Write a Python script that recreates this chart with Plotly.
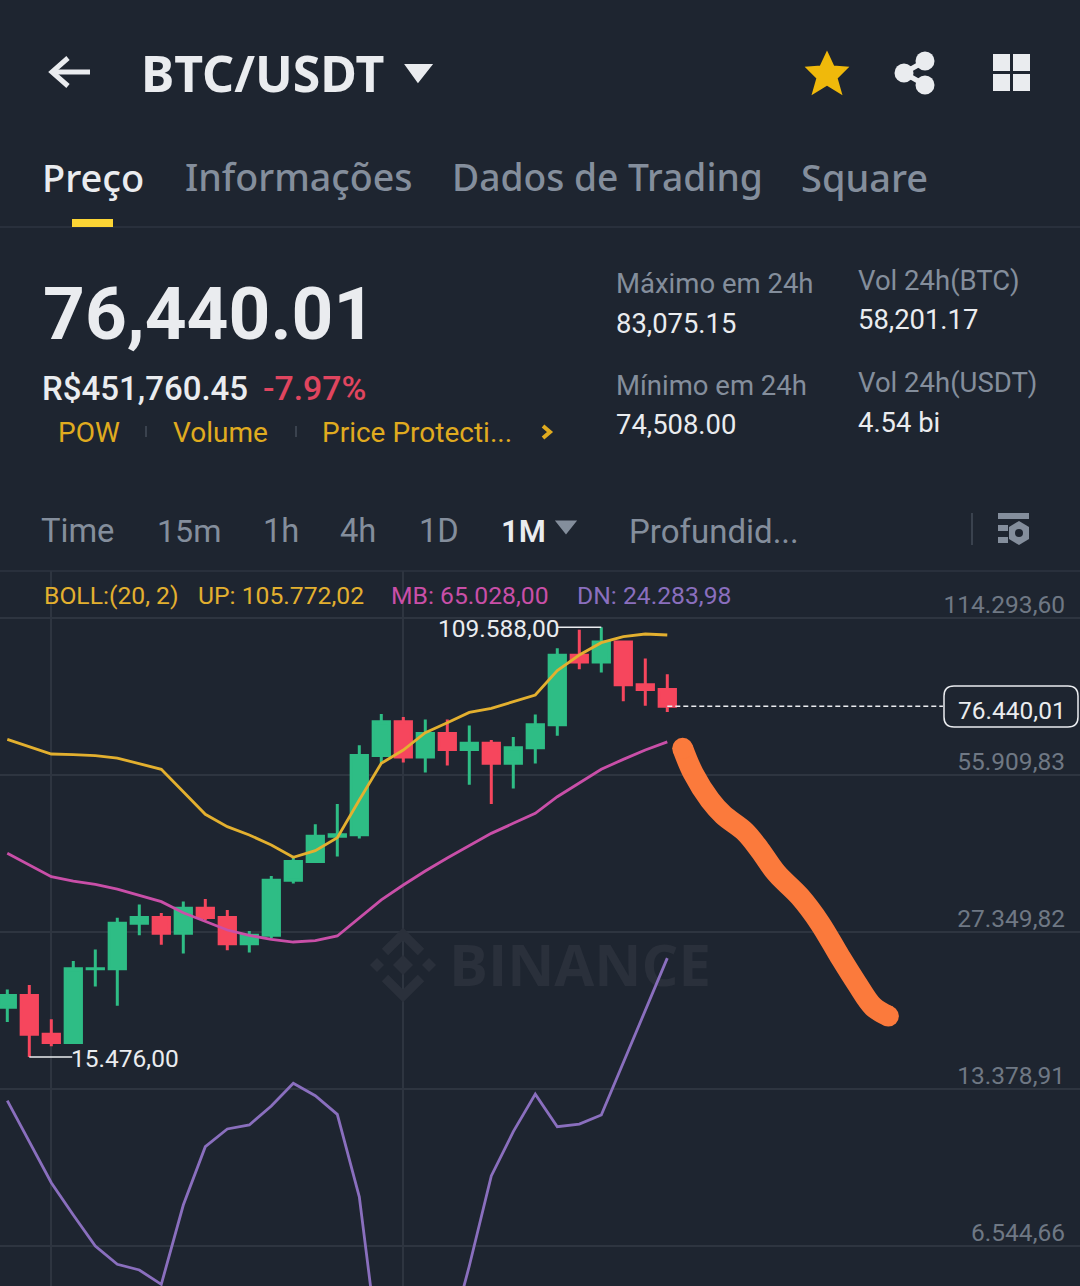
import plotly.graph_objects as go

BG = '#1e2530'
GRID = '#2e3540'
WHITE = '#eaecef'
GRAY = '#848e9c'
YELLOW = '#f0b90b'
GREEN = '#2ebd85'
RED = '#f6465d'
ORANGE = '#fb7a3c'

# Monthly candles, Oct 2022 to Apr 2025
months = list(range(31))
opens = [19422, 20490, 17163, 16542, 23125, 23142, 28465, 29233, 27210, 30472, 29232,
         25940, 26962, 34639, 37723, 42283, 42580, 61130, 71280, 60672, 67540, 62772,
         64628, 58974, 63327, 70292, 96407, 93576, 102429, 84350, 82550]
highs = [21060, 21480, 18387, 23960, 25250, 29184, 31000, 29820, 31431, 31804, 30244,
         27483, 35280, 38450, 44700, 48969, 64000, 73777, 72797, 71979, 71980, 70079,
         65593, 66498, 73620, 99588, 108353, 109588, 102500, 95000, 88500]
lows = [18150, 15476, 16256, 16499, 21351, 19549, 26942, 25811, 24800, 28861, 25166,
        24901, 26538, 34097, 37629, 38555, 41884, 59005, 59191, 56552, 58402, 53485,
        49000, 52550, 58946, 66835, 90500, 89142, 78258, 76606, 74508]
closes = [20490, 17163, 16542, 23125, 23142, 28465, 29233, 27210, 30472, 29232, 25940,
          26962, 34639, 37723, 42283, 42580, 61130, 71280, 60672, 67540, 62772, 64628,
          58974, 63327, 70292, 96407, 93576, 102429, 84350, 82550, 76440.01]

# Bollinger bands
boll_up = [65770, 63600, 61520, 61330, 61060, 60400, 58960, 57380, 51820, 46740, 44190,
           42540, 40650, 38430, 39610, 42020, 49900, 58960, 62650, 67800, 70960, 74370,
           75740, 77960, 80490, 89920, 96570, 102150, 104980, 106270, 105772.02]
boll_mb = [39140, 37100, 35190, 34500, 33980, 33260, 32370, 31400, 29860, 28670, 27600,
           26930, 26450, 26130, 26290, 26860, 29100, 31650, 33880, 36110, 38310, 40470,
           42860, 44860, 46960, 50650, 53990, 57380, 60040, 62650, 65028]
boll_dn = [12686, 10524, 8731, 7537, 6544, 6021, 5867, 5497, 7888, 10287, 11153,
           11356, 12382, 13727, 12974, 11921, 8190, 3687, 3246, 3246, 4095, 5975,
           9003, 11017, 13070, 11267, 11407, 11887, 15100, 19030, 24283.98]

# Hand drawn stroke over the screenshot
stroke_x = [30.70, 31.18, 31.94, 32.55, 33.53, 34.21, 34.97, 36.03, 36.94, 37.85, 38.61, 39.36, 40.05]
stroke_price = [63130, 56350, 49890, 46600, 43180, 39730, 35730, 32120, 28460, 24440, 21660, 19460, 18650]

tick_vals = [114293.60, 55909.83, 27349.82, 13378.91, 6544.66]
tick_text = ['114.293,60', '55.909,83', '27.349,82', '13.378,91', '6.544,66']
last_price = 76440.01
high_price = 109588
low_price = 15476


def px(x):
    return x / 1080


def py(y):
    return 1 - y / 1286


fig = go.Figure()

# Watermark goes first so everything sits on top of it
fig.add_trace(go.Scatter(
    x=[26.03], y=[22900], mode='text', text=['<b>BINANCE</b>'],
    textfont=dict(family='Open Sans', size=58, color='#2a303b'),
    hoverinfo='skip', showlegend=False
))

fig.add_trace(go.Candlestick(
    x=months, open=opens, high=highs, low=lows, close=closes,
    increasing=dict(line=dict(color=GREEN, width=3), fillcolor=GREEN),
    decreasing=dict(line=dict(color=RED, width=3), fillcolor=RED),
    hoverinfo='skip', showlegend=False
))

for band, color in [(boll_up, '#e3b02f'), (boll_mb, '#c94fa8'), (boll_dn, '#8a6fbe')]:
    fig.add_trace(go.Scatter(
        x=months, y=band, mode='lines', line=dict(color=color, width=2.8),
        hoverinfo='skip', showlegend=False
    ))

# Round ends only, the spline does the rest
stroke_sizes = [21] + [0] * (len(stroke_x) - 2) + [21]
fig.add_trace(go.Scatter(
    x=stroke_x, y=stroke_price, mode='lines+markers',
    line=dict(color=ORANGE, width=21, shape='spline'),
    marker=dict(color=ORANGE, size=stroke_sizes, opacity=1, line=dict(width=0)),
    hoverinfo='skip', showlegend=False
))

shapes = []


def hline(y, x0=0, x1=1080, color=GRID, width=1.5):
    shapes.append(dict(type='line', xref='paper', yref='paper', x0=px(x0), x1=px(x1), y0=py(y), y1=py(y),
                       line=dict(color=color, width=width)))


def vline(x, y0, y1, color=GRID, width=2):
    shapes.append(dict(type='line', xref='paper', yref='paper', x0=px(x), x1=px(x), y0=py(y0), y1=py(y1),
                       line=dict(color=color, width=width)))


def box(x0, y0, x1, y1, color):
    shapes.append(dict(type='rect', xref='paper', yref='paper', x0=px(x0), x1=px(x1), y0=py(y0), y1=py(y1),
                       fillcolor=color, line=dict(width=0)))


def poly(points, fill=None, line_color=None, width=0, close=True):
    path = 'M ' + ' L '.join(f'{px(a):.5f} {py(b):.5f}' for a, b in points) + (' Z' if close else '')
    shapes.append(dict(type='path', xref='paper', yref='paper', path=path, fillcolor=fill,
                       line=dict(color=line_color, width=width)))


def dot(x, y, r, color):
    shapes.append(dict(type='circle', xref='paper', yref='paper', x0=px(x - r), x1=px(x + r),
                       y0=py(y - r), y1=py(y + r), fillcolor=color, line=dict(width=0)))


# Page furniture
hline(227)
hline(571)
box(72, 219, 113, 227, '#fcd535')
vline(146, 426, 437, '#3a424e', 2)
vline(296, 426, 437, '#3a424e', 2)
vline(972, 513, 545, '#3a424e', 2)

# Back arrow
poly([(52, 72), (90, 72)], line_color=WHITE, width=5, close=False)
poly([(68, 58), (52, 72), (68, 86)], line_color=WHITE, width=5, close=False)

# Pair dropdown and interval dropdown
poly([(408, 66), (429, 66), (418, 80)], fill=WHITE, line_color=WHITE, width=4)
poly([(558, 522), (574, 522), (566, 532)], fill=GRAY, line_color=GRAY, width=3)

# Star
poly([(827, 54), (833, 67), (846, 68), (836, 78), (840, 92), (827, 84), (814, 92), (818, 78),
      (808, 68), (821, 67)], fill=YELLOW, line_color=YELLOW, width=3)

# Share
poly([(925, 61), (904, 73), (925, 85)], line_color=WHITE, width=5, close=False)
dot(925, 61, 9.5, WHITE)
dot(904, 73, 9.5, WHITE)
dot(925, 85, 9.5, WHITE)

# Grid
box(993, 54, 1010, 71, WHITE)
box(1013, 54, 1030, 71, WHITE)
box(1013, 74, 1030, 91, WHITE)
box(993, 74, 1010, 91, WHITE)

# Chevron
poly([(543, 426), (550, 432), (543, 438)], line_color='#e0ab1f', width=4, close=False)

# Indicator settings icon
box(998, 513, 1029, 519, GRAY)
box(998, 525, 1008, 531, GRAY)
box(998, 537, 1008, 543, GRAY)
poly([(1019, 521), (1029, 527), (1029, 539), (1019, 545), (1009, 539), (1009, 527)], fill=GRAY)
dot(1019, 533, 4, BG)

# Binance logo in the watermark
for cx, cy, r in [(403, 965, 10), (377, 965, 7), (429, 965, 7)]:
    poly([(cx, cy - r), (cx + r, cy), (cx, cy + r), (cx - r, cy)], fill='#2a303b')
poly([(385, 952), (403, 934), (421, 952)], line_color='#2a303b', width=9, close=False)
poly([(385, 978), (403, 996), (421, 978)], line_color='#2a303b', width=9, close=False)

# Last price line and label
shapes.append(dict(type='line', xref='x', yref='y', x0=30, x1=42.53, y0=last_price, y1=last_price,
                   line=dict(color=WHITE, width=1.5, dash='5px,3px')))
shapes.append(dict(type='path', xref='paper', yref='paper',
                   path=f'M {px(954)} {py(686)} L {px(1068)} {py(686)} Q {px(1078)} {py(686)} {px(1078)} {py(696)} '
                        f'L {px(1078)} {py(717)} Q {px(1078)} {py(727)} {px(1068)} {py(727)} L {px(954)} {py(727)} '
                        f'Q {px(944)} {py(727)} {px(944)} {py(717)} L {px(944)} {py(696)} Q {px(944)} {py(686)} {px(954)} {py(686)} Z',
                   fillcolor=BG, line=dict(color=WHITE, width=1.5)))

# High and low leaders
shapes.append(dict(type='line', xref='x', yref='y', x0=25, x1=27, y0=high_price, y1=high_price,
                   line=dict(color=WHITE, width=1.5)))
shapes.append(dict(type='line', xref='x', yref='y', x0=1, x1=2.95, y0=low_price, y1=low_price,
                   line=dict(color=WHITE, width=1.5)))

annotations = []


def label(text, x, y, size, color=WHITE, family='Roboto', weight=400):
    annotations.append(dict(text=text, xref='paper', yref='paper', x=px(x), y=py(y),
                            xanchor='left', yanchor='middle', showarrow=False,
                            font=dict(family=family, size=size, color=color, weight=weight)))


label('BTC/USDT', 139, 73, 50, WHITE, 'Noto Sans', 700)

label('Preço', 40, 176.5, 38, WHITE, 'Noto Sans', 500)
label('Informações', 183, 176.5, 37.6, GRAY, 'Noto Sans', 500)
label('Dados de Trading', 450, 176.5, 37.2, GRAY, 'Noto Sans', 500)
label('Square', 799, 176.5, 38, GRAY, 'Noto Sans', 500)

label('76,440.01', 41, 314, 73, WHITE, 'Roboto', 700)
label('R$451,760.45', 40, 389, 33, WHITE, 'Roboto', 500)
label('-7.97%', 261, 389, 33.8, '#e0455f', 'Roboto', 500)
label('POW', 56, 432.5, 28, '#e0ab1f')
label('Volume', 171, 432.5, 28, '#e0ab1f')
label('Price Protecti...', 320, 432.5, 28, '#e0ab1f')

label('Máximo em 24h', 614, 283.5, 27.5, GRAY)
label('83,075.15', 614, 323.5, 27.4, WHITE)
label('Mínimo em 24h', 614, 385.5, 27.5, GRAY)
label('74,508.00', 614, 425.5, 27.4, WHITE)
label('Vol 24h(BTC)', 856, 280.5, 27.5, GRAY)
label('58,201.17', 856, 320.5, 27.4, WHITE)
label('Vol 24h(USDT)', 856, 382.5, 27.5, GRAY)
label('4.54 bi', 856, 422.5, 27.4, WHITE)

label('Time', 39, 531, 32.7, GRAY)
label('15m', 155, 531, 32.2, GRAY)
label('1h', 261, 531, 32.7, GRAY)
label('4h', 338, 531, 32.7, GRAY)
label('1D', 417, 531, 32.7, GRAY)
label('1M', 499, 531, 31, WHITE, 'Roboto', 600)
label('Profundid...', 627, 531, 33, GRAY)

label('BOLL:(20, 2)', 42, 595, 24.7, '#e3b02f')
label('UP: 105.772,02', 196, 595, 24.7, '#e3b02f')
label('MB: 65.028,00', 389, 595, 24.7, '#c94fa8')
label('DN: 24.283,98', 575, 595, 24.7, '#8a6fbe')

label('109.588,00', 436, 628, 24.5, WHITE)
label('15.476,00', 69, 1058.5, 24.5, WHITE)
label('76.440,01', 956, 711, 24.5, WHITE)

fig.update_layout(
    width=1080, height=1286,
    margin=dict(l=0, r=0, t=0, b=0),
    paper_bgcolor=BG, plot_bgcolor=BG,
    showlegend=False,
    boxgap=0.26, boxgroupgap=0,
    shapes=shapes, annotations=annotations,
    xaxis=dict(
        domain=[0, 1], range=[-0.332, 48.76], rangeslider=dict(visible=False),
        tickmode='array', tickvals=[2, 18], showticklabels=False, ticks='',
        showgrid=True, gridcolor=GRID, gridwidth=2, zeroline=False, showline=False,
    ),
    yaxis=dict(
        domain=[0, 715 / 1286], type='log', range=[3.73679, 5.15099],
        side='right', tickmode='array', tickvals=tick_vals, ticktext=tick_text,
        ticklabelposition='inside', ticklabelshift=-14, ticklabelstandoff=12, ticks='',
        tickfont=dict(family='Roboto', size=24.5, color='#6f7884'),
        showgrid=True, gridcolor=GRID, gridwidth=2, zeroline=False, showline=False,
    ),
)

fig.write_html("out.html", config=dict(displayModeBar=False),
               post_script="document.body.style.margin='0';document.body.style.overflow='hidden';")
